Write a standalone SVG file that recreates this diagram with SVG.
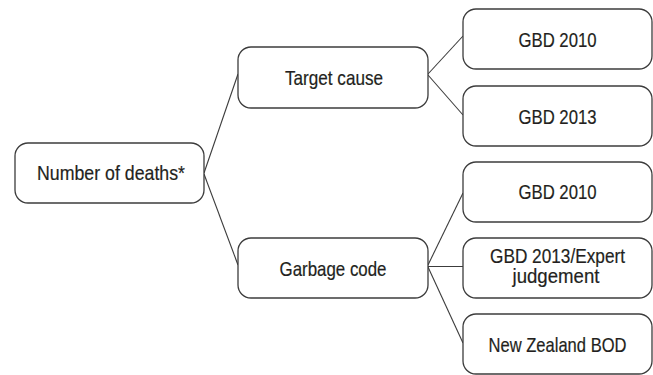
<svg xmlns="http://www.w3.org/2000/svg" width="653" height="375" viewBox="0 0 653 375">
  <style>
    .box { fill: #ffffff; stroke: #3c3c3c; stroke-width: 1.3; }
    .lbl { font-family: "Liberation Sans", Arial, sans-serif; font-size: 21px; fill: #231f20; stroke: #231f20; stroke-width: 0.2; text-anchor: middle; }
    .edge { fill: none; stroke: #3c3c3c; stroke-width: 1.1; }
  </style>
  <rect width="653" height="375" fill="#ffffff"/>

  <!-- connectors -->
  <g id="connectors">
    <path class="edge" d="M204,173 L238,74"/>
    <path class="edge" d="M204,174 L238,265"/>
    <path class="edge" d="M428,74 L463,36"/>
    <path class="edge" d="M428,75 L463,115"/>
    <path class="edge" d="M428,265 L463,193"/>
    <path class="edge" d="M428,266.5 L463,266.5"/>
    <path class="edge" d="M428,267 L463,343"/>
  </g>

  <!-- root -->
  <g id="node-deaths">
    <rect class="box" x="15" y="143" width="189" height="60" rx="13"/>
    <text class="lbl" x="111" y="179.5" textLength="148" lengthAdjust="spacingAndGlyphs">Number of deaths*</text>
  </g>

  <!-- second level -->
  <g id="node-target">
    <rect class="box" x="238" y="47" width="190" height="61" rx="13"/>
    <text class="lbl" x="334" y="85" textLength="98" lengthAdjust="spacingAndGlyphs">Target cause</text>
  </g>
  <g id="node-garbage">
    <rect class="box" x="238" y="238" width="190" height="60" rx="13"/>
    <text class="lbl" x="333" y="275.5" textLength="107" lengthAdjust="spacingAndGlyphs">Garbage code</text>
  </g>

  <!-- third level -->
  <g id="node-target-gbd2010">
    <rect class="box" x="463" y="9" width="189" height="60" rx="13"/>
    <text class="lbl" x="557.5" y="46.5" textLength="78" lengthAdjust="spacingAndGlyphs">GBD 2010</text>
  </g>
  <g id="node-target-gbd2013">
    <rect class="box" x="463" y="86" width="189" height="60" rx="13"/>
    <text class="lbl" x="557.5" y="123.5" textLength="78" lengthAdjust="spacingAndGlyphs">GBD 2013</text>
  </g>
  <g id="node-garbage-gbd2010">
    <rect class="box" x="463" y="162" width="189" height="60" rx="13"/>
    <text class="lbl" x="557.5" y="198.5" textLength="78" lengthAdjust="spacingAndGlyphs">GBD 2010</text>
  </g>
  <g id="node-garbage-expert">
    <rect class="box" x="463" y="238" width="189" height="60" rx="13"/>
    <text class="lbl" x="557.5" y="263" textLength="135" lengthAdjust="spacingAndGlyphs">GBD 2013/Expert</text>
    <text class="lbl" x="556" y="283" textLength="87" lengthAdjust="spacingAndGlyphs">judgement</text>
  </g>
  <g id="node-garbage-nzbod">
    <rect class="box" x="463" y="314" width="189" height="60" rx="13"/>
    <text class="lbl" x="557.5" y="352" textLength="138" lengthAdjust="spacingAndGlyphs">New Zealand BOD</text>
  </g>
</svg>
